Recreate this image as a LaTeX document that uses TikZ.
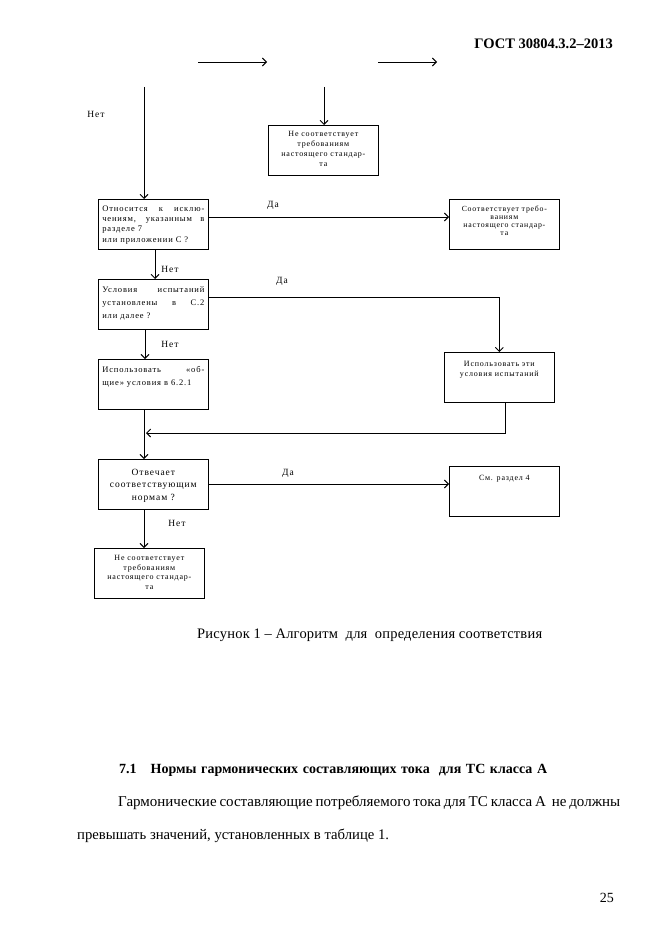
\documentclass[tikz,border=0pt]{standalone}
\usepackage{fontspec}
\setmainfont{Liberation Serif}
\newfontfamily\spc[LetterSpace=10]{Liberation Serif}
\newfontfamily\spcc[LetterSpace=1.5]{Liberation Serif}
\usetikzlibrary{arrows.meta}
\newcommand{\bxc}[4]{\parbox[c][50pt][t]{102pt}{\spc\fontsize{#1}{#2}\selectfont\centering\rule{0pt}{#3pt}#4\par}}
\newcommand{\bxj}[4]{\parbox[c][50pt][t]{102pt}{\spc\fontsize{#1}{#2}\selectfont\rule{0pt}{#3pt}#4\par}}
\newcommand{\jl}[1]{\makebox[102pt][s]{#1}}
\begin{document}
\begin{tikzpicture}[x=1pt,y=-1pt,
  box/.style={draw, line width=0.7pt, inner xsep=4pt, inner ysep=0pt, anchor=north west},
  arr/.style={-{Straight Barb[length=4pt,width=8pt]}, line width=0.9pt},
  lbl/.style={font=\spc\fontsize{9.5}{11}\selectfont, inner sep=0pt},
  txt/.style={inner sep=0pt, anchor=base west}]
\useasboundingbox (0,0) rectangle (661,936);
\node[inner sep=0pt, anchor=base east, font=\fontsize{14.5}{16}\selectfont\bfseries] (hdr) at (613,49) {ГОСТ 30804.3.2–2013};
% top arrows
\coordinate (a1s) at (198,62); \coordinate (a1e) at (267,62);
\draw[arr] (a1s) -- (a1e);
\coordinate (a2s) at (378,62); \coordinate (a2e) at (437,62);
\draw[arr] (a2s) -- (a2e);
\coordinate (v1s) at (144,87);
\coordinate (v2s) at (324,87);
% boxes
\node[box] (b1) at (268,125) {\bxc{8}{10}{11.5}{Не соответствует\\требованиям\\настоящего стандар-\\та}};
\node[box] (b2) at (98,199) {\bxj{8.5}{10.3}{12}{\jl{Относится к исклю-}\\\jl{чениям, указанным в}\\разделе 7\\или приложении С ?}};
\node[box] (b3) at (449,199) {\bxc{7.8}{7.9}{12.5}{Соответствует требо-\\ваниям\\настоящего стандар-\\та}};
\node[box] (b4) at (98,279) {\bxj{8.5}{13}{13.5}{\jl{Условия испытаний}\\\jl{установлены в С.2}\\или далее ?}};
\node[box] (b5) at (98,359) {\bxj{8.5}{13}{13.5}{\jl{Использовать «об-}\\щие» условия в 6.2.1}};
\node[box] (b6) at (444,352) {\bxc{8}{10}{14.5}{Использовать эти\\условия испытаний}};
\node[box] (b7) at (98,459) {\bxc{9.5}{12.5}{16}{Отвечает\\соответствующим\\нормам ?}};
\node[box] (b8) at (449,466) {\bxc{8}{10}{14}{См. раздел 4}};
\node[box] (b9) at (94,548) {\bxc{8}{9.5}{12.5}{Не соответствует\\требованиям\\настоящего стандар-\\та}};
% connectors
\draw[arr] (v1s) -- (v1s |- b2.north);
\draw[arr] (v2s) -- (v2s |- b1.north);
\coordinate (yA) at (0,217);
\draw[arr] (b2.east |- yA) -- (b3.west |- yA);
\coordinate (xB) at (155,0);
\draw[arr] (xB |- b2.south) -- (xB |- b4.north);
\coordinate (yC) at (0,297);
\draw[arr] (b4.east |- yC) -| (b6.north);
\coordinate (xD) at (145,0);
\draw[arr] (xD |- b4.south) -- (xD |- b5.north);
\coordinate (xE) at (144,0);
\draw[arr] (xE |- b5.south) -- (xE |- b7.north);
\coordinate (xF) at (505,0); \coordinate (yG) at (0,433); \coordinate (xH) at (146,0);
\draw[arr] (xF |- b6.south) -- (xF |- yG) -- (xH |- yG);
\coordinate (yI) at (0,484);
\draw[arr] (b7.east |- yI) -- (b8.west |- yI);
\draw[arr] (xE |- b7.south) -- (xE |- b9.north);
% labels
\node[lbl] (n1) at (96,114) {Нет};
\node[lbl] (d1) at (273,205) {Да};
\node[lbl] (n2) at (170,269) {Нет};
\node[lbl] (d2) at (282,281) {Да};
\node[lbl] (n3) at (170,344) {Нет};
\node[lbl] (d3) at (288,473) {Да};
\node[lbl] (n4) at (177,523) {Нет};
% texts
\node[txt, font=\spcc\fontsize{14.5}{16}\selectfont] (cap) at (197,638) {\makebox[345pt][s]{Рисунок 1 – Алгоритм\ \ для\ \ определения соответствия}};
\node[txt, font=\fontsize{14}{16}\selectfont\bfseries] (sec) at (119,773) {\makebox[428pt][s]{7.1\quad Нормы гармонических составляющих тока\ \ для ТС класса А}};
\node[txt, font=\fontsize{15}{17}\selectfont] (p1) at (118,806) {\makebox[502pt][s]{Гармонические составляющие потребляемого тока для ТС класса А\ \ не должны}};
\node[txt, font=\fontsize{14.7}{17}\selectfont] (p2) at (77,839) {превышать значений, установленных в таблице 1.};
\node[inner sep=0pt, anchor=base east, font=\fontsize{14}{16}\selectfont] (pg) at (614,902) {25};
\end{tikzpicture}
\end{document}
